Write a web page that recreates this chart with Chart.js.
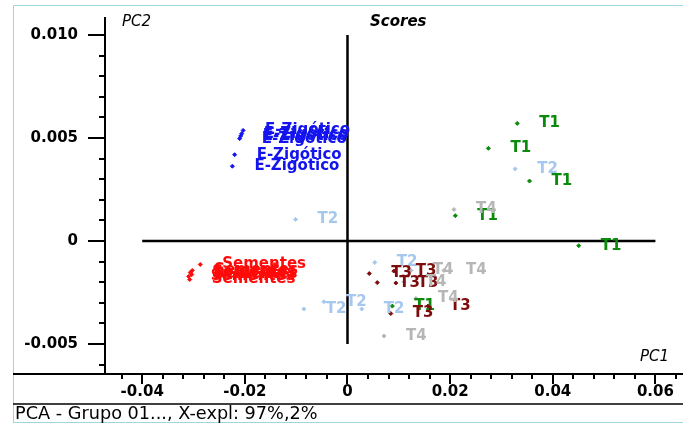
<!DOCTYPE html>
<html>
<head>
<meta charset="utf-8">
<script src="https://cdn.jsdelivr.net/npm/chart.js@4.4.1/dist/chart.umd.min.js"></script>
<style>
  body { margin: 0; background: #fff; }
  #wrap { width: 683px; height: 425px; }
</style>
</head>
<body>
<div id="wrap"><canvas id="scores" width="683" height="425"></canvas></div>
<script>
// PCA scores, [PC1, PC2] per sample
const eZigotico = [[-0.02034, 0.00537], [-0.02062, 0.00521], [-0.02081, 0.00510], [-0.02101, 0.00497], [-0.02199, 0.00419], [-0.02243, 0.00363]];
const sementes = [[-0.02869, -0.00114], [-0.03025, -0.00143], [-0.03064, -0.00153], [-0.03035, -0.00163], [-0.03094, -0.00172], [-0.03074, -0.00187]];
const t1 = [[0.03307, 0.00571], [0.02746, 0.00450], [0.03547, 0.00291], [0.02101, 0.00123], [0.04505, -0.00023], [0.00874, -0.00316]];
const t2 = [[0.03268, 0.00350], [-0.01012, 0.00105], [0.00532, -0.00104], [-0.00459, -0.00295], [-0.00850, -0.00330], [0.00278, -0.00330]];
const t3 = [[0.00424, -0.00158], [0.00903, -0.00146], [0.00580, -0.00202], [0.00942, -0.00204], [0.01567, -0.00316], [0.00844, -0.00352]];
const t4 = [[0.02075, 0.00153], [0.01235, -0.00143], [0.01880, -0.00143], [0.01098, -0.00199], [0.01333, -0.00279], [0.00713, -0.00461]];

const groupNames = ["E-Zigótico", "Sementes", "T1", "T2", "T3", "T4"];
const groupColors = ["#1414ee", "#ff0a0a", "#0b8a0b", "#a6c8ee", "#7e0c0c", "#b6b6b6"];
const groups = [eZigotico, sementes, t1, t2, t3, t4];

const xMajor = [-0.04, -0.02, 0, 0.02, 0.04, 0.06];
const xTickLabels = ["-0.04", "-0.02", "0", "0.02", "0.04", "0.06"];
const yMajor = [0.010, 0.005, 0, -0.005];
const yTickLabels = ["0.010", "0.005", "0", "-0.005"];

const tickFont = { family: "DejaVu Sans", size: 15, weight: "bold" };

// white window with thin border, axes, tick marks and status bar
const frame = {
  id: "frame",
  beforeDraw(chart) {
    const ctx = chart.ctx;
    ctx.save();
    ctx.fillStyle = "#fff";
    ctx.fillRect(0, 0, chart.width, chart.height);
    ctx.strokeStyle = "#9ed6e0";
    ctx.lineWidth = 1;
    ctx.beginPath();
    ctx.moveTo(13.5, 423);
    ctx.lineTo(13.5, 5.5);
    ctx.lineTo(683, 5.5);
    ctx.moveTo(13.5, 422.5);
    ctx.lineTo(683, 422.5);
    ctx.stroke();
    ctx.restore();
  },
  beforeDatasetsDraw(chart) {
    // crosshair through the origin
    const { ctx, scales: { x, y } } = chart;
    ctx.save();
    ctx.strokeStyle = "#000";
    ctx.lineWidth = 2.5;
    ctx.beginPath();
    ctx.moveTo(x.getPixelForValue(-0.04), y.getPixelForValue(0));
    ctx.lineTo(x.getPixelForValue(0.06), y.getPixelForValue(0));
    ctx.moveTo(x.getPixelForValue(0), y.getPixelForValue(0.010));
    ctx.lineTo(x.getPixelForValue(0), y.getPixelForValue(-0.005));
    ctx.stroke();
    ctx.restore();
  },
  afterDraw(chart) {
    const { ctx, chartArea: a, scales: { x, y } } = chart;
    ctx.save();
    ctx.strokeStyle = "#000";
    ctx.lineWidth = 2;
    ctx.beginPath();
    ctx.moveTo(a.left, a.top);
    ctx.lineTo(a.left, a.bottom);
    ctx.moveTo(13, a.bottom);
    ctx.lineTo(683, a.bottom);
    ctx.stroke();

    // tick marks: majors long, minors short
    ctx.lineWidth = 2;
    ctx.beginPath();
    for (let k = -6; k <= 10; k++) {
      const py = Math.round(y.getPixelForValue(k / 1000));
      const major = k % 5 === 0;
      ctx.moveTo(a.left - (major ? 17 : 6), py);
      ctx.lineTo(a.left, py);
    }
    for (let k = -11; k <= 16; k++) {
      const px = Math.round(x.getPixelForValue(k * 0.004));
      const major = k % 5 === 0;
      ctx.moveTo(px, a.bottom);
      ctx.lineTo(px, a.bottom + (major ? 10 : 5));
    }
    ctx.stroke();

    // status bar
    ctx.lineWidth = 1.5;
    ctx.beginPath();
    ctx.moveTo(13, 404);
    ctx.lineTo(683, 404);
    ctx.stroke();
    ctx.fillStyle = "#000";
    ctx.textBaseline = "middle";
    ctx.font = "17.7px 'DejaVu Sans'";
    ctx.fillText("PCA - Grupo 01..., X-expl: 97%,2%", 15, 414);

    // axis names and title
    ctx.font = "italic 15px 'DejaVu Sans'";
    ctx.fillText("PC2", 122, 22);
    ctx.fillText("PC1", 640, 357);
    ctx.font = "italic bold 15px 'DejaVu Sans'";
    ctx.fillText("Scores", 370, 22);
    ctx.restore();
  }
};

// sample names written to the right of each point
const pointNames = {
  id: "pointNames",
  afterDatasetsDraw(chart) {
    const ctx = chart.ctx;
    ctx.save();
    ctx.font = "bold 15px 'DejaVu Sans'";
    ctx.textBaseline = "middle";
    chart.data.datasets.forEach((ds, i) => {
      ctx.fillStyle = ds.borderColor;
      chart.getDatasetMeta(i).data.forEach(pt => {
        ctx.fillText(ds.label, pt.x + 22, pt.y);
      });
    });
    ctx.restore();
  }
};

new Chart(document.getElementById("scores"), {
  type: "scatter",
  data: {
    datasets: groups.map((g, i) => ({
      label: groupNames[i],
      data: g.map(p => ({ x: p[0], y: p[1] })),
      backgroundColor: groupColors[i],
      borderColor: groupColors[i],
      borderWidth: 1,
      pointStyle: "rectRot",
      pointRadius: 2,
    })),
  },
  options: {
    responsive: false,
    animation: false,
    layout: { padding: { top: 17, right: 0, bottom: 21, left: 0 } },
    scales: {
      x: {
        type: "linear",
        min: -0.04725,
        max: 0.0644,
        afterBuildTicks: s => { s.ticks = xMajor.map(v => ({ value: v })); },
        afterFit: s => { s.height = 30; },
        grid: { display: false, drawTicks: true, tickLength: 9 },
        border: { display: false },
        ticks: {
          callback: (v, i) => xTickLabels[i],
          font: tickFont,
          color: "#000",
          padding: 0,
          maxRotation: 0,
          autoSkip: false,
        },
      },
      y: {
        type: "linear",
        min: -0.006456,
        max: 0.010874,
        afterBuildTicks: s => { s.ticks = yMajor.map(v => ({ value: v })); },
        afterFit: s => { s.width = 105; },
        grid: { display: false, drawTicks: true, tickLength: 27 },
        border: { display: false },
        ticks: {
          callback: (v, i) => yTickLabels[i],
          font: tickFont,
          color: "#000",
          padding: 0,
          autoSkip: false,
        },
      },
    },
    plugins: {
      legend: { display: false },
      tooltip: { enabled: false },
    },
  },
  plugins: [frame, pointNames],
});
</script>
</body>
</html>
